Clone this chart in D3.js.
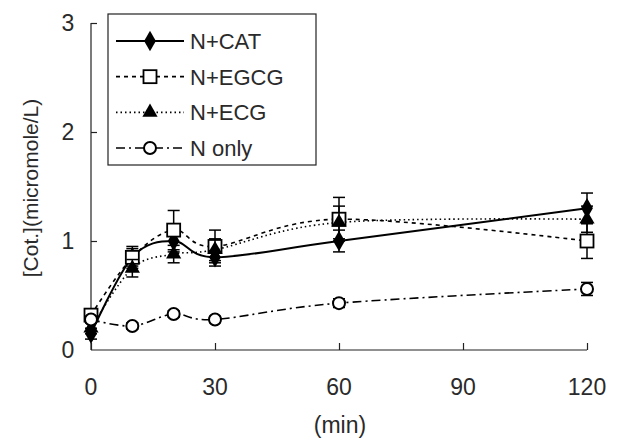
<!DOCTYPE html>
<html lang="en">
<head>
<meta charset="UTF-8">
<title>Cot. time course</title>
<script src="https://cdn.jsdelivr.net/npm/d3@7"></script>
<style>
  body { margin: 0; background: #fff; }
  text { font-family: "Liberation Sans", Arial, sans-serif; fill: #2a2a2a; }
</style>
</head>
<body>
<div id="chart"></div>
<script>
// data
var times = [0, 10, 20, 30, 60, 120];
var seriesNames = ["N+CAT", "N+EGCG", "N+ECG", "N only"];
var catVals = [0.15, 0.85, 1.0, 0.85, 1.0, 1.3];
var catErr = [0.05, 0.1, 0.1, 0.08, 0.1, 0.14];
var egcgVals = [0.32, 0.85, 1.1, 0.95, 1.2, 1.0];
var egcgErr = [0.05, 0.08, 0.18, 0.15, 0.2, 0.16];
var ecgVals = [0.2, 0.75, 0.88, 0.92, 1.17, 1.2];
var ecgErr = [0.05, 0.08, 0.08, 0.1, 0.15, 0.12];
var nVals = [0.28, 0.22, 0.33, 0.28, 0.43, 0.56];
var nErr = [0.03, 0.03, 0.03, 0.03, 0.04, 0.06];
var xTicks = [0, 30, 60, 90, 120];
var yTicks = [0, 1, 2, 3];

var width = 622, height = 439;

var x = d3.scaleLinear().domain([0, 120]).range([91, 587]);
var y = d3.scaleLinear().domain([0, 3]).range([350, 23]);

var svg = d3.select("#chart").append("svg")
    .attr("width", width)
    .attr("height", height);

var series = [
    {name: seriesNames[0], vals: catVals, err: catErr, dash: null, lw: 2, marker: "diamond"},
    {name: seriesNames[1], vals: egcgVals, err: egcgErr, dash: "4,4", lw: 1.6, marker: "square"},
    {name: seriesNames[2], vals: ecgVals, err: ecgErr, dash: "1.5,3", lw: 1.6, marker: "triangle"},
    {name: seriesNames[3], vals: nVals, err: nErr, dash: "9,4,2,4", lw: 1.6, marker: "circle"}
];

// axes (ticks point inward)
var xAxis = svg.append("g").attr("transform", "translate(0," + y(0) + ")")
    .call(d3.axisTop(x).tickValues(xTicks).tickSize(7).tickFormat(""));
xAxis.select(".domain").attr("d", "M" + x(0) + ",0H" + x(120));
var yAxis = svg.append("g").attr("transform", "translate(" + x(0) + ",0)")
    .call(d3.axisRight(y).tickValues(yTicks.filter(function(d) { return d > 0; })).tickSize(6).tickFormat(""));
yAxis.select(".domain").attr("d", "M0," + y(3) + "V" + y(0));
svg.selectAll(".domain, .tick line").attr("stroke", "#222").attr("stroke-width", 1.2);

svg.selectAll(".xlab").data(xTicks).enter().append("text")
    .attr("x", function(d) { return x(d); })
    .attr("y", 395)
    .attr("text-anchor", "middle")
    .attr("font-size", "23px")
    .text(function(d) { return d; });
svg.selectAll(".ylab").data(yTicks).enter().append("text")
    .attr("x", 68)
    .attr("y", function(d) { return y(d) + 8; })
    .attr("text-anchor", "middle")
    .attr("font-size", "23px")
    .text(function(d) { return d; });

svg.append("text")
    .attr("x", 340).attr("y", 433)
    .attr("text-anchor", "middle")
    .attr("font-size", "23px")
    .text("(min)");
svg.append("text")
    .attr("transform", "translate(38,188) rotate(-90)")
    .attr("text-anchor", "middle")
    .attr("font-size", "21px")
    .text("[Cot.](micromole/L)");

function drawMarker(g, type) {
    if (type === "diamond") {
        g.append("path").attr("d", d3.symbol().type(d3.symbolDiamond).size(120)())
            .attr("fill", "#000");
    } else if (type === "square") {
        g.append("rect").attr("x", -6.5).attr("y", -6.5).attr("width", 13).attr("height", 13)
            .attr("fill", "#fff").attr("stroke", "#000").attr("stroke-width", 1.8);
    } else if (type === "triangle") {
        g.append("path").attr("d", d3.symbol().type(d3.symbolTriangle).size(100)())
            .attr("fill", "#000");
    } else {
        g.append("circle").attr("r", 6).attr("fill", "#fff")
            .attr("stroke", "#000").attr("stroke-width", 2);
    }
}

var line = d3.line()
    .x(function(d) { return x(d.t); })
    .y(function(d) { return y(d.v); })
    .curve(d3.curveCardinal.tension(0));

series.forEach(function(s) {
    var pts = times.map(function(t, i) { return {t: t, v: s.vals[i], e: s.err[i]}; });
    var g = svg.append("g");
    g.append("path").datum(pts)
        .attr("d", line)
        .attr("fill", "none")
        .attr("stroke", "#000")
        .attr("stroke-width", s.lw)
        .attr("stroke-dasharray", s.dash);
    var eb = g.selectAll(".eb").data(pts).enter().append("g");
    eb.append("line")
        .attr("x1", function(d) { return x(d.t); }).attr("x2", function(d) { return x(d.t); })
        .attr("y1", function(d) { return y(d.v - d.e); }).attr("y2", function(d) { return y(d.v + d.e); })
        .attr("stroke", "#000").attr("stroke-width", 1.5);
    [-1, 1].forEach(function(sign) {
        eb.append("line")
            .attr("x1", function(d) { return x(d.t) - 6; }).attr("x2", function(d) { return x(d.t) + 6; })
            .attr("y1", function(d) { return y(d.v + sign * d.e); })
            .attr("y2", function(d) { return y(d.v + sign * d.e); })
            .attr("stroke", "#000").attr("stroke-width", 1.5);
    });
    g.selectAll(".mk").data(pts).enter().append("g")
        .attr("transform", function(d) { return "translate(" + x(d.t) + "," + y(d.v) + ")"; })
        .each(function() { drawMarker(d3.select(this), s.marker); });
});

// legend
var legend = svg.append("g");
legend.append("rect")
    .attr("x", 108).attr("y", 14).attr("width", 208).attr("height", 151)
    .attr("fill", "#fff").attr("stroke", "#222").attr("stroke-width", 1.2);
var rowY = d3.scalePoint().domain(seriesNames).range([41, 148]);
series.forEach(function(s) {
    var ry = rowY(s.name);
    legend.append("line")
        .attr("x1", 116).attr("x2", 184).attr("y1", ry).attr("y2", ry)
        .attr("stroke", "#000").attr("stroke-width", s.lw)
        .attr("stroke-dasharray", s.dash);
    var m = legend.append("g").attr("transform", "translate(150," + ry + ")");
    drawMarker(m, s.marker);
    legend.append("text")
        .attr("x", 190).attr("y", ry + 8)
        .attr("font-size", "22px")
        .text(s.name);
});
</script>
</body>
</html>
